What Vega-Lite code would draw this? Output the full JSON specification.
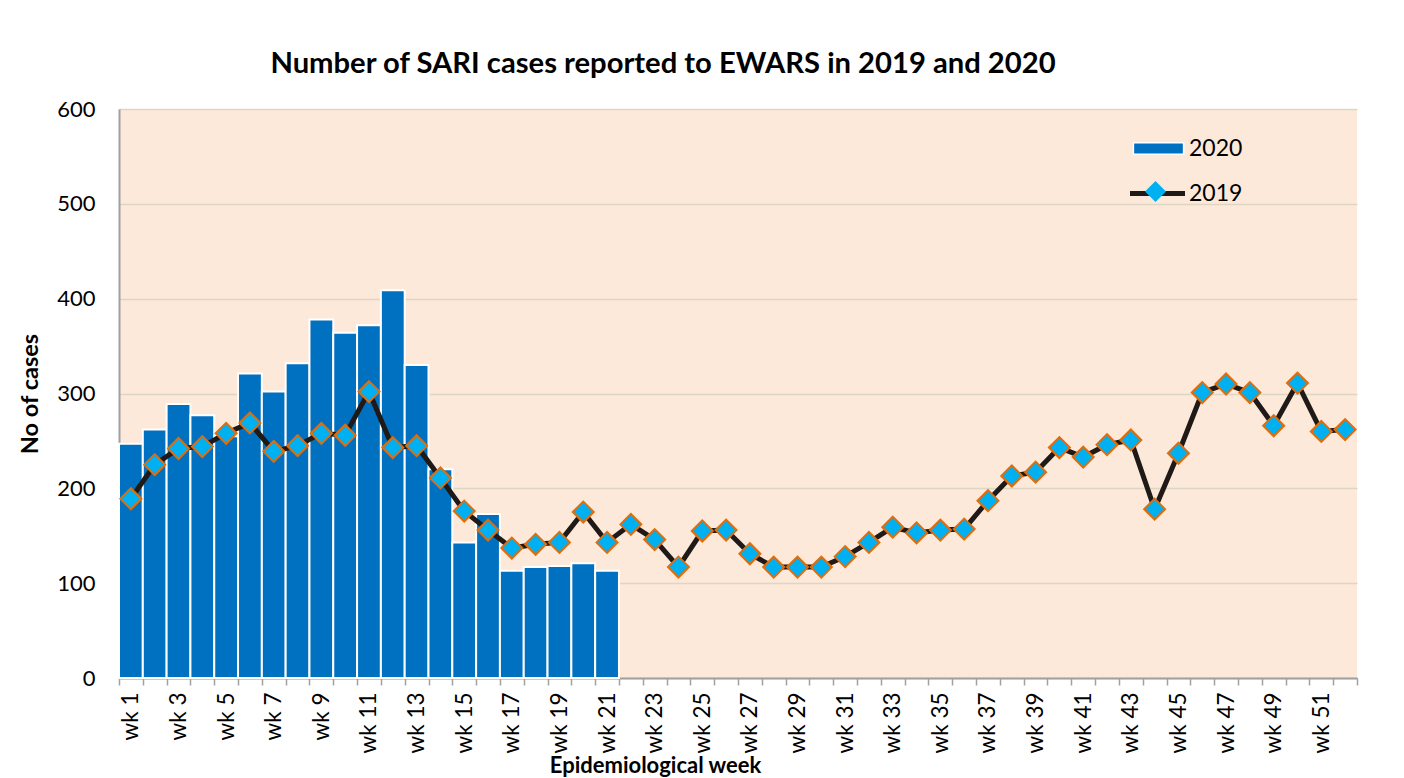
{
  "$schema": "https://vega.github.io/schema/vega-lite/v6.json",
  "width": 1238,
  "height": 569,
  "autosize": {"type": "none"},
  "padding": {"left": 119, "top": 109, "right": 47, "bottom": 100},
  "background": "white",
  "title": {
    "text": "Number of SARI cases reported to EWARS  in 2019 and 2020",
    "font": "Lato",
    "fontSize": 29.2,
    "fontWeight": "bold",
    "color": "black",
    "anchor": "middle",
    "dx": -75,
    "offset": 19
  },
  "config": {
    "view": {"fill": "#FCE9DA", "stroke": null},
    "font": "Lato",
    "axis": {"labelFont": "Lato", "titleFont": "Lato", "labelColor": "black", "titleColor": "black"}
  },
  "data": {
    "values": [
      {"week": 1, "y2020": 247, "y2019": 189},
      {"week": 2, "y2020": 262, "y2019": 225},
      {"week": 3, "y2020": 289, "y2019": 242},
      {"week": 4, "y2020": 277, "y2019": 244},
      {"week": 5, "y2020": 255, "y2019": 258},
      {"week": 6, "y2020": 321, "y2019": 269},
      {"week": 7, "y2020": 302, "y2019": 239},
      {"week": 8, "y2020": 332, "y2019": 245},
      {"week": 9, "y2020": 378, "y2019": 258},
      {"week": 10, "y2020": 364, "y2019": 256},
      {"week": 11, "y2020": 372, "y2019": 302},
      {"week": 12, "y2020": 409, "y2019": 243},
      {"week": 13, "y2020": 330, "y2019": 245},
      {"week": 14, "y2020": 220, "y2019": 211},
      {"week": 15, "y2020": 143, "y2019": 176},
      {"week": 16, "y2020": 173, "y2019": 156},
      {"week": 17, "y2020": 113, "y2019": 137},
      {"week": 18, "y2020": 117, "y2019": 141},
      {"week": 19, "y2020": 118, "y2019": 143},
      {"week": 20, "y2020": 121, "y2019": 175},
      {"week": 21, "y2020": 113, "y2019": 143},
      {"week": 22, "y2020": null, "y2019": 162},
      {"week": 23, "y2020": null, "y2019": 146},
      {"week": 24, "y2020": null, "y2019": 117},
      {"week": 25, "y2020": null, "y2019": 155},
      {"week": 26, "y2020": null, "y2019": 156},
      {"week": 27, "y2020": null, "y2019": 131},
      {"week": 28, "y2020": null, "y2019": 117},
      {"week": 29, "y2020": null, "y2019": 117},
      {"week": 30, "y2020": null, "y2019": 117},
      {"week": 31, "y2020": null, "y2019": 128},
      {"week": 32, "y2020": null, "y2019": 143},
      {"week": 33, "y2020": null, "y2019": 159},
      {"week": 34, "y2020": null, "y2019": 153},
      {"week": 35, "y2020": null, "y2019": 156},
      {"week": 36, "y2020": null, "y2019": 157},
      {"week": 37, "y2020": null, "y2019": 187},
      {"week": 38, "y2020": null, "y2019": 213},
      {"week": 39, "y2020": null, "y2019": 217},
      {"week": 40, "y2020": null, "y2019": 243},
      {"week": 41, "y2020": null, "y2019": 233},
      {"week": 42, "y2020": null, "y2019": 246},
      {"week": 43, "y2020": null, "y2019": 251},
      {"week": 44, "y2020": null, "y2019": 178},
      {"week": 45, "y2020": null, "y2019": 237},
      {"week": 46, "y2020": null, "y2019": 301},
      {"week": 47, "y2020": null, "y2019": 310},
      {"week": 48, "y2020": null, "y2019": 301},
      {"week": 49, "y2020": null, "y2019": 266},
      {"week": 50, "y2020": null, "y2019": 311},
      {"week": 51, "y2020": null, "y2019": 260},
      {"week": 52, "y2020": null, "y2019": 262}
    ]
  },
  "encoding": {
    "x": {
      "field": "week",
      "type": "ordinal",
      "sort": "ascending",
      "scale": {"paddingInner": 0, "paddingOuter": 0},
      "axis": {
        "title": "Epidemiological week",
        "titleFontSize": 22,
        "titleFontWeight": "bold",
        "titleX": 536,
        "titleY": 94,
        "titleAlign": "center",
        "titleBaseline": "alphabetic",
        "labelExpr": "datum.value % 2 === 1 ? 'wk ' + datum.value : ''",
        "labelAngle": -90,
        "labelAlign": "right",
        "labelBaseline": "middle",
        "labelFontSize": 22.5,
        "labelPadding": 7,
        "labelOverlap": false,
        "labelBound": false,
        "tickBand": "extent",
        "tickSize": 7,
        "tickColor": "#A0A0A0",
        "tickWidth": 1.5,
        "domainColor": "#A0A0A0",
        "domainWidth": 2,
        "grid": false
      }
    }
  },
  "layer": [
    {
      "mark": {"type": "bar", "stroke": "white", "strokeWidth": 2},
      "encoding": {
        "y": {
          "field": "y2020",
          "type": "quantitative",
          "scale": {"domain": [0, 600]},
          "axis": {
            "title": "No of cases",
            "titleFontSize": 23.5,
            "titleFontWeight": "bold",
            "titlePadding": 14,
            "labelFontSize": 22,
            "labelPadding": 24,
            "ticks": false,
            "tickCount": 6,
            "domainColor": "#A0A0A0",
            "domainWidth": 2,
            "gridColor": "#DDD6C2",
            "gridWidth": 1.5
          }
        },
        "fill": {
          "datum": "2020",
          "type": "nominal",
          "scale": {"range": ["#0070C0"]},
          "legend": {
            "title": null,
            "orient": "none",
            "legendX": 1027,
            "legendY": 27,
            "symbolType": "M-2.2,-0.5H2.2V0.5H-2.2Z",
            "symbolSize": 520,
            "symbolStrokeColor": "white",
            "symbolStrokeWidth": 1.5,
            "labelFontSize": 23,
            "labelOffset": 18,
            "labelFont": "Lato",
            "labelColor": "black"
          }
        }
      }
    },
    {
      "mark": {"type": "line", "strokeWidth": 5},
      "encoding": {
        "y": {"field": "y2019", "type": "quantitative"},
        "stroke": {
          "datum": "2019",
          "type": "nominal",
          "scale": {"range": ["#1F1A17"]},
          "legend": {
            "title": null,
            "orient": "none",
            "legendX": 1025,
            "legendY": 71,
            "symbolType": "M-2.5,0H2.5",
            "symbolSize": 484,
            "symbolStrokeWidth": 5,
            "labelFontSize": 23,
            "labelOffset": 18,
            "labelFont": "Lato",
            "labelColor": "black"
          }
        }
      }
    },
    {
      "mark": {"type": "point", "filled": true, "fill": "#00B0F0", "stroke": "#E36C09", "strokeWidth": 2, "size": 440, "opacity": 1},
      "encoding": {
        "y": {"field": "y2019", "type": "quantitative"},
        "shape": {
          "datum": "2019 marker",
          "type": "nominal",
          "scale": {"range": ["diamond"]},
          "legend": {
            "title": null,
            "orient": "none",
            "legendX": 1025,
            "legendY": 71,
            "symbolSize": 440,
            "symbolFillColor": "#00B0F0",
            "symbolStrokeColor": "#E36C09",
            "symbolStrokeWidth": 2,
            "labelExpr": "''"
          }
        }
      }
    }
  ]
}
